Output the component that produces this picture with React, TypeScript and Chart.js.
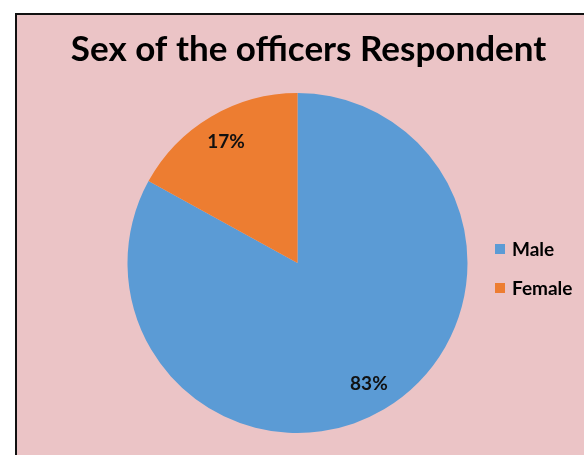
import React, { useEffect, useRef } from "react";
import { Chart, registerables } from "chart.js";

Chart.register(...registerables);

const categories = ["Male", "Female"];
const values = [83, 17];
const valueLabels = ["83%", "17%"];
const colors = ["#5b9bd5", "#ed7d31"];
const titleText = "Sex of the officers Respondent";

const FONT = "Lato, 'Open Sans', sans-serif";

const overlayPlugin = {
  id: "overlay",
  afterDraw(chart: any) {
    const ctx = chart.ctx;
    ctx.save();
    // title
    ctx.fillStyle = "#000";
    ctx.font = `bold 35px ${FONT}`;
    ctx.textAlign = "center";
    ctx.textBaseline = "alphabetic";
    ctx.fillText(titleText, 291.5, 46);

    // value labels
    const meta = chart.getDatasetMeta(0);
    ctx.font = `bold 19px ${FONT}`;
    ctx.textAlign = "center";
    ctx.textBaseline = "middle";
    meta.data.forEach((arc: any, i: number) => {
      const { x, y, startAngle, endAngle, outerRadius } = arc.getProps(
        ["x", "y", "startAngle", "endAngle", "outerRadius"],
        true
      );
      const mid = (startAngle + endAngle) / 2;
      const r = outerRadius * 0.825;
      ctx.fillStyle = "#111";
      ctx.fillText(valueLabels[i], x + Math.cos(mid) * r, y + Math.sin(mid) * r);
    });

    // legend
    ctx.font = `bold 19px ${FONT}`;
    ctx.textAlign = "left";
    ctx.textBaseline = "alphabetic";
    categories.forEach((c, i) => {
      const top = 229 + i * 39;
      ctx.fillStyle = colors[i];
      ctx.fillRect(478, top, 10, 10);
      ctx.fillStyle = "#000";
      ctx.fillText(c, 495, top + 12);
    });
    ctx.restore();
  },
};

export default function App() {
  const ref = useRef<HTMLCanvasElement>(null);
  useEffect(() => {
    if (!ref.current) return;
    const chart = new Chart(ref.current, {
      type: "pie",
      data: {
        labels: categories,
        datasets: [
          {
            data: values,
            backgroundColor: colors,
            borderWidth: 0,
          },
        ],
      },
      options: {
        responsive: false,
        animation: false,
        layout: { padding: { left: 110.5, right: 116.5, top: 78, bottom: 22 } },
        plugins: {
          legend: { display: false },
          title: { display: false },
          tooltip: { enabled: false },
        },
      },
      plugins: [overlayPlugin],
    });
    return () => chart.destroy();
  }, []);

  return (
    <div
      style={{
        position: "fixed",
        left: 0,
        top: 0,
        width: 584,
        height: 455,
        background: "#fff",
        overflow: "hidden",
      }}
    >
      <div
        style={{
          position: "absolute",
          left: 15,
          top: 13,
          width: 600,
          height: 460,
          background: "#ebc4c6",
          borderLeft: "2px solid #111",
          borderTop: "2px solid #111",
        }}
      >
        <canvas ref={ref} width={567} height={440} style={{ display: "block" }} />
      </div>
    </div>
  );
}
